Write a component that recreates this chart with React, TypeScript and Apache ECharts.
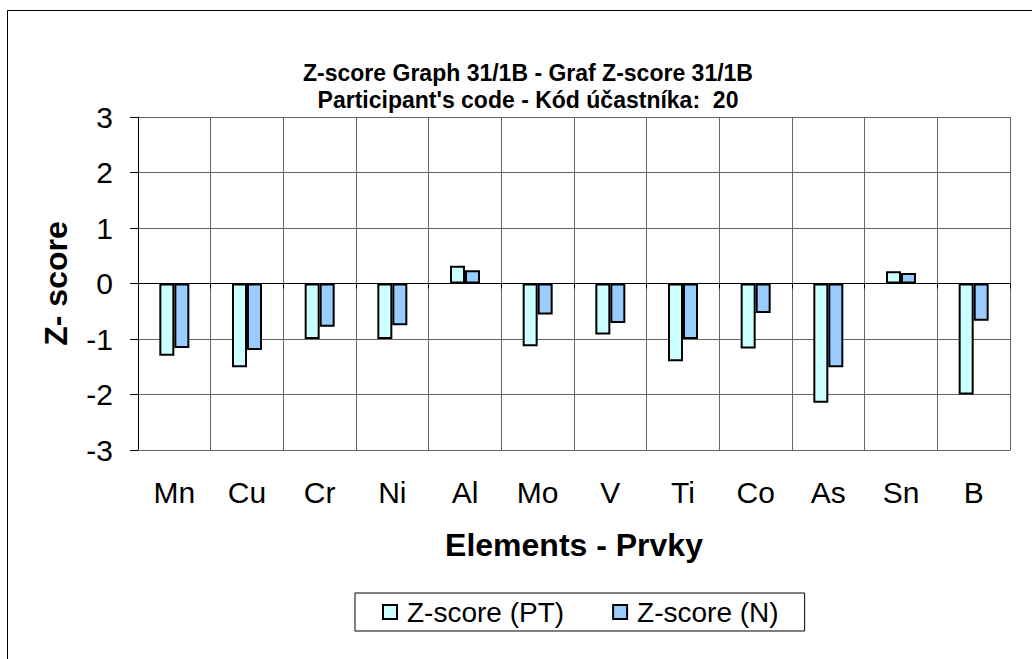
import React, { useEffect, useRef } from "react";
import * as echarts from "echarts";

const categories = ["Mn", "Cu", "Cr", "Ni", "Al", "Mo", "V", "Ti", "Co", "As", "Sn", "B"];
const zScorePT = [-1.3, -1.51, -1.0, -1.0, 0.32, -1.13, -0.92, -1.4, -1.17, -2.15, 0.22, -2.0];
const zScoreN = [-1.16, -1.2, -0.78, -0.75, 0.24, -0.56, -0.71, -1.0, -0.53, -1.51, 0.19, -0.67];
const yTicks = { min: -3, max: 3, interval: 1 };
const titleLine1 = "Z-score Graph 31/1B - Graf Z-score 31/1B";
const titleLine2 = "Participant's code - Kód účastníka:  20";
const seriesNames = ["Z-score (PT)", "Z-score (N)"];

const FONT = "Liberation Sans";

export default function App() {
  const ref = useRef<HTMLDivElement>(null);
  useEffect(() => {
    if (!ref.current) return;
    const chart = echarts.init(ref.current, null, { renderer: "svg" });
    const grid = "#666666";
    chart.setOption({
      animation: false,
      backgroundColor: "#ffffff",
      textStyle: { fontFamily: FONT },
      graphic: [
        {
          type: "rect",
          shape: { x: 7.5, y: 10.5, width: 1030, height: 700 },
          style: { fill: "none", stroke: "#000", lineWidth: 1 },
          silent: true,
        },
        {
          type: "text",
          x: 528,
          y: 73,
          style: {
            text: titleLine1,
            fontFamily: FONT,
            fontWeight: "bold",
            fontSize: 23,
            fill: "#000",
            align: "center",
            verticalAlign: "middle",
          },
        },
        {
          type: "text",
          x: 528,
          y: 100,
          style: {
            text: titleLine2,
            fontFamily: FONT,
            fontWeight: "bold",
            fontSize: 23,
            fill: "#000",
            align: "center",
            verticalAlign: "middle",
          },
        },
      ],
      legend: {
        left: 355,
        top: 593,
        padding: [5, 26, 5, 27],
        itemGap: 48,
        itemWidth: 14,
        itemHeight: 14,
        icon: "rect",
        borderColor: "#000",
        borderWidth: 1,
        textStyle: { fontFamily: FONT, fontSize: 28, color: "#000", padding: [0, 0, 0, 5] },
        data: seriesNames,
      },
      grid: { left: 138, top: 117, width: 872, height: 333 },
      xAxis: [
        {
          type: "category",
          data: categories,
          position: "bottom",
          axisLine: { onZero: false, lineStyle: { color: grid, width: 1 } },
          axisTick: { show: false },
          axisLabel: { fontSize: 30, color: "#000", margin: 27, fontFamily: FONT },
          splitLine: { show: true, lineStyle: { color: grid, width: 1 } },
          name: "Elements - Prvky",
          nameLocation: "middle",
          nameGap: 79,
          nameTextStyle: { fontSize: 32, fontWeight: "bold", color: "#000", fontFamily: FONT },
        },
        {
          type: "category",
          data: categories,
          position: "bottom",
          axisLine: { onZero: true, lineStyle: { color: "#000", width: 1 } },
          axisTick: { show: true, length: 5, lineStyle: { color: "#000" } },
          axisLabel: { show: false },
          splitLine: { show: false },
        },
      ],
      yAxis: {
        type: "value",
        min: yTicks.min,
        max: yTicks.max,
        interval: yTicks.interval,
        axisLine: { show: true, lineStyle: { color: "#000", width: 1 } },
        axisTick: { show: true, length: 8, lineStyle: { color: "#000" } },
        axisLabel: { fontSize: 30, color: "#000", margin: 25, fontFamily: FONT },
        splitLine: { show: true, lineStyle: { color: grid, width: 1 } },
        name: "Z- score",
        nameLocation: "middle",
        nameGap: 66,
        nameTextStyle: { fontSize: 32, fontWeight: "bold", color: "#000", fontFamily: FONT },
      },
      series: [
        {
          name: seriesNames[0],
          type: "bar",
          data: zScorePT,
          barWidth: 15,
          barGap: "0%",
          itemStyle: { color: "#CCFFFF", borderColor: "#000", borderWidth: 2 },
        },
        {
          name: seriesNames[1],
          type: "bar",
          data: zScoreN,
          barWidth: 15,
          barGap: "0%",
          itemStyle: { color: "#99CCFF", borderColor: "#000", borderWidth: 2 },
        },
      ],
    });
    return () => chart.dispose();
  }, []);
  return (
    <div
      ref={ref}
      style={{ position: "absolute", left: 0, top: 0, width: 1032, height: 659 }}
    />
  );
}
